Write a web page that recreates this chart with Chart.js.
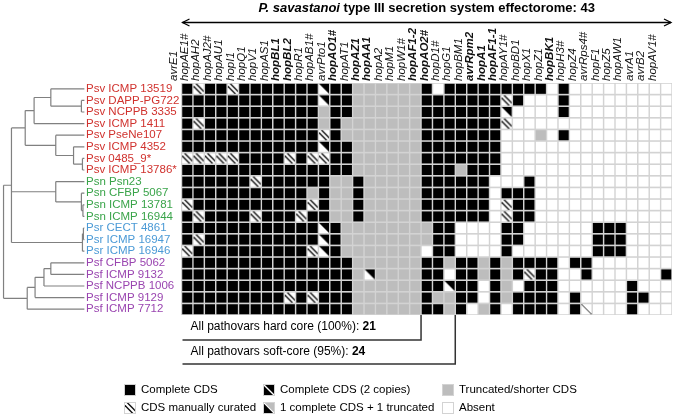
<!DOCTYPE html>
<html><head><meta charset="utf-8">
<script src="https://cdn.jsdelivr.net/npm/chart.js@4/dist/chart.umd.min.js"></script>
<style>html,body{margin:0;padding:0;background:#fff}canvas{display:block}</style>
</head><body>
<canvas id="c" width="679" height="418"></canvas>
<script>
// ---------- DATA ----------
const effectorNames = ['avrE1','hopAE1#','hopAH2','hopAJ2#','hopAU1','hopI1','hopQ1','hopV1','hopAS1','hopBL1','hopBL2','hopR1','hopAB1#','avrPto1','hopAO1#','hopAT1','hopAZ1','hopAA1','hopA2','hopM1','hopW1#','hopAF1-2','hopAO2#','hopD1#','hopG1','hopBM1','avrRpm2','hopA1','hopAF1-1','hopAY1#','hopBD1','hopX1','hopZ1','hopBK1','hopH3#','hopZ4','avrRps4#','hopF1','hopZ5','hopAW1','avrA1','avrB2','hopAV1#'];
const boldEffectors = ['hopBL1','hopBL2','hopAO1#','hopAZ1','hopAA1','hopAF1-2','hopAO2#','avrRpm2','hopA1','hopAF1-1','hopBK1'];
const strainNames = ['Psv ICMP 13519','Psv DAPP-PG722','Psv NCPPB 3335','Psv ICMP 1411','Psv PseNe107','Psv ICMP 4352','Psv 0485_9*','Psv ICMP 13786*','Psn Psn23','Psn CFBP 5067','Psn ICMP 13781','Psn ICMP 16944','Psr CECT 4861','Psr ICMP 16947','Psr ICMP 16946','Psf CFBP 5062','Psf ICMP 9132','Psf NCPPB 1006','Psf ICMP 9129','Psf ICMP 7712'];
const strainPathovar = ['Psv','Psv','Psv','Psv','Psv','Psv','Psv','Psv','Psn','Psn','Psn','Psn','Psr','Psr','Psr','Psf','Psf','Psf','Psf','Psf'];
// B complete, S manually curated, T 2 copies, G truncated, W absent, L single diagonal
const effectorStates = [
  'BSBBSBBBBBBBTBBGGGGGGBWBBBBBBBBBWBWWWWWWWWW',
  'BBBBBBBBBBBBTBBGGGGGGBBBBBBBSBWWWBWWWWWWWWW',
  'BBBBBBBBBBBBGBBGGGGGGBBBBBBBTWWWWBWWWWWWWWW',
  'BSBBBBBBBBBBGBGGGGGGGBBBBBBBSWWWWWWWWWWWWWW',
  'BBBBBBBBBBBBSBGGGGGGGBBBBBBBWWWGWBWWWWWWWWW',
  'BBBBBBBBBBBBTBBGGGGGGBBBBBBBWWWWWWWWWWWWWWW',
  'SSSSSBBBBSBSSBBGGGGGGBBBBBBBWWWWWWWWWWWWWWW',
  'BBBBBBBBBBBBBBBGGGGGGBBBGBBBWWWWWWWWWWWWWWW',
  'BBBBBBSBBBBBBGGBGGGGGBBBBBBWWWBWWWWWWWWWWWW',
  'BBBBBBBBBBBGBGGBGGGGGBBBBBBWBBBWWWWWWWWWWWW',
  'SBBBBBBBBBBSBGGBGGGGGBBBBBBWSBBWWWWWWWWWWWW',
  'BSBBBBSBBBSBBGGBGGGGGBBBBBBWSBBWWWWWWWWWWWW',
  'BBBBBBBBBBBBTBGGGGGGGGBBWWWWBBWWWWWWBBBWWWW',
  'BSBBBBBBBBBBTBGGGGGGGGBBWWWWBBWWWWWWBBBWWWW',
  'SBBBBBBBBBBSTBGGGGGGGWBBWWWWBWWWWWWWBBBWWWW',
  'BBBBBBBBBBBBBBBGGGGGGBBGBBGBGBBBBWBBWWWWWWW',
  'BBBBBBBBBBBBBBBGTGGGGBBWBBGBGBSBBWWBWWWWWWB',
  'BBBBBBBBBBBBBBBGGGGGGBBTBBWBGWBBBWWWWWWBWWW',
  'BBBBBBBBBSBSBBBGGGGGGBGGBBWBGBBBBWBWWWWBBWW',
  'BBBBBBBBBBBBBBBGGGGGGBBGBWGBWBBBBWBLWWWBWWW'
];
const hardCoreCount = 21;   // all pathovars hard core (100%)
const softCoreCount = 24;   // all pathovars soft-core (95%)
// dendrogram: [depth, child, child...]; leaves = strain index; depth 0 = root, 1 = leaves
const dendrogram = [0.0,
  [0.098,
    [0.268,
      [0.378, [0.585, 0, [0.963, 1, 2]], 3],
      [0.646, 4, [0.866, 5, [0.976, 6, 7]]]
    ],
    [0.646, 8, [0.963, 9, [0.982, 10, 11]]],
    [0.976, [0.988, 12, 13], 14]
  ],
  [0.293, [0.39, [0.5, [0.585, 15, 16], 17], 18], 19]
];
const legendItems = [['B','Complete CDS'],['S','CDS manually curated'],['T2','Complete CDS (2 copies)'],['P','1 complete CDS + 1 truncated'],['G','Truncated/shorter CDS'],['W','Absent']];

// ---------- STYLE ----------
const FONT = '"Liberation Sans", Arial, Helvetica, sans-serif';
Chart.defaults.font.family = FONT;
const pathovarColors = {Psv:'#d0322e', Psn:'#3aa44a', Psr:'#4b9ad6', Psf:'#9a45b0'};
const GRID_LEFT = 181.5, GRID_RIGHT = 679, GRID_TOP = 83, GRID_BOTTOM = 315;
const TREE_LEFT = 1, TREE_RIGHT = 83;

function makeCell(kind){
  const s = 12, cv = document.createElement('canvas'); cv.width = s; cv.height = s;
  const g = cv.getContext('2d');
  g.fillStyle = '#d3d3d3'; g.fillRect(0,0,s,s);
  const fills = {B:'#000', G:'#bdbdbd', T2:'#000', P:'#bdbdbd'};
  g.fillStyle = fills[kind] || '#fff'; g.fillRect(1,1,10,10);
  g.save(); g.beginPath(); g.rect(1,1,10,10); g.clip();
  if (kind === 'S'){
    g.strokeStyle = '#111'; g.lineWidth = 1.4;
    [-2.6, 2.6].forEach(o => { g.beginPath(); g.moveTo(o, 0); g.lineTo(o+12, 12); g.stroke(); });
  } else if (kind === 'T'){
    g.fillStyle = '#000'; g.beginPath(); g.moveTo(1,1); g.lineTo(11,1); g.lineTo(11,11); g.closePath(); g.fill();
  } else if (kind === 'L'){
    g.strokeStyle = '#222'; g.lineWidth = 1; g.beginPath(); g.moveTo(1,1); g.lineTo(11,11); g.stroke();
  } else if (kind === 'T2'){
    g.strokeStyle = '#fff'; g.lineWidth = 1.4; g.beginPath(); g.moveTo(0,0); g.lineTo(12,12); g.stroke();
  } else if (kind === 'P'){
    g.fillStyle = '#000'; g.beginPath(); g.moveTo(1,1); g.lineTo(1,11); g.lineTo(11,11); g.closePath(); g.fill();
    g.strokeStyle = '#fff'; g.lineWidth = 1.2; g.beginPath(); g.moveTo(0,0); g.lineTo(12,12); g.stroke();
  }
  g.restore();
  return cv;
}
const cellImages = {};
['B','G','W','S','T','L','T2','P'].forEach(k => cellImages[k] = makeCell(k));

// ---------- DATASETS ----------
const cellKinds = ['B','G','W','S','T','L'];
const cellDatasets = cellKinds.map(kind => {
  const pts = [];
  effectorStates.forEach((row, r) => {
    for (let c = 0; c < row.length; c++) if (row[c] === kind) pts.push({x: c, y: r});
  });
  return {label: kind, data: pts, pointStyle: cellImages[kind], pointRadius: 6, pointHoverRadius: 6, clip: false, xAxisID: 'x', yAxisID: 'y'};
});

const treeSegments = [];
function walk(node){
  if (typeof node === 'number') return {y: node, d: 1};
  const [d, ...kids] = node;
  const ks = kids.map(walk);
  const ys = ks.map(k => k.y);
  const y0 = Math.min(...ys), y1 = Math.max(...ys);
  treeSegments.push({x: d, y: y0}, {x: d, y: y1}, {x: null, y: null});
  ks.forEach(k => treeSegments.push({x: d, y: k.y}, {x: k.d, y: k.y}, {x: null, y: null}));
  return {y: (y0 + y1) / 2, d};
}
walk(dendrogram);
const treeDataset = {label: 'tree', data: treeSegments, showLine: true, spanGaps: false, pointRadius: 0, borderColor: '#808080', borderWidth: 1.2, clip: false, xAxisID: 'xt', yAxisID: 'y'};

// tree scale so that depth 0..1 lands on TREE_LEFT..TREE_RIGHT
const pxPerDepth = TREE_RIGHT - TREE_LEFT;
const xtMin = (GRID_LEFT - TREE_LEFT) / pxPerDepth;
const xtMax = xtMin + (GRID_RIGHT - GRID_LEFT) / pxPerDepth;

// ---------- DECORATION PLUGIN ----------
const decor = {
  id: 'decor',
  afterDraw(chart){
    const {ctx, scales: {x, y}} = chart;
    const left = x.getPixelForValue(-0.5), right = x.getPixelForValue(effectorNames.length - 0.5);
    const bottom = y.getPixelForValue(strainNames.length - 0.5);
    ctx.save();
    ctx.fillStyle = '#000'; ctx.strokeStyle = '#000'; ctx.textBaseline = 'middle'; ctx.textAlign = 'left';
    // title
    const t1 = 'P. savastanoi', t2 = ' type III secretion system effectorome: ' + effectorNames.length;
    ctx.font = 'italic bold 13px ' + FONT; const w1 = ctx.measureText(t1).width;
    ctx.font = 'bold 13px ' + FONT; const w2 = ctx.measureText(t2).width;
    const tx = (left + right) / 2 - (w1 + w2) / 2;
    ctx.font = 'italic bold 13px ' + FONT; ctx.fillText(t1, tx, 8);
    ctx.font = 'bold 13px ' + FONT; ctx.fillText(t2, tx + w1, 8);
    // double arrow
    const ay = 22.5;
    ctx.lineWidth = 1.3;
    ctx.beginPath(); ctx.moveTo(left + 1, ay); ctx.lineTo(right - 1, ay); ctx.stroke();
    ctx.beginPath(); ctx.moveTo(left + 8, ay - 3.5); ctx.lineTo(left + 1, ay); ctx.lineTo(left + 8, ay + 3.5); ctx.stroke();
    ctx.beginPath(); ctx.moveTo(right - 8, ay - 3.5); ctx.lineTo(right - 1, ay); ctx.lineTo(right - 8, ay + 3.5); ctx.stroke();
    // core brackets
    const brackets = [['All pathovars hard core (100%): ', hardCoreCount, 12, 25], ['All pathovars soft-core (95%): ', softCoreCount, 37, 49]];
    ctx.strokeStyle = '#333'; ctx.lineWidth = 1.5;
    brackets.forEach(([txt, n, ty, ly]) => {
      const bx = x.getPixelForValue(n - 0.5);
      ctx.beginPath(); ctx.moveTo(left + 1, bottom + ly); ctx.lineTo(bx, bottom + ly); ctx.lineTo(bx, bottom); ctx.stroke();
      ctx.font = '12px ' + FONT; ctx.fillText(txt, left + 9, bottom + ty);
      const tw = ctx.measureText(txt).width;
      ctx.font = 'bold 12px ' + FONT; ctx.fillText(String(n), left + 9 + tw, bottom + ty);
    });
    // legend
    const colX = [124, 263, 442], rowY = [390, 408];
    ctx.font = '11.5px ' + FONT;
    legendItems.forEach(([k, label], i) => {
      const cx = colX[Math.floor(i / 2)], cy = rowY[i % 2];
      ctx.drawImage(cellImages[k], cx, Math.round(cy - 6));
      ctx.fillText(label, cx + 17, cy);
    });
    ctx.restore();
  }
};

// ---------- CHART ----------
new Chart(document.getElementById('c'), {
  type: 'scatter',
  data: {datasets: [...cellDatasets, treeDataset]},
  options: {
    responsive: false, animation: false, devicePixelRatio: 1, events: [],
    layout: {padding: {left: 86, right: 679 - GRID_RIGHT, top: 0, bottom: 418 - GRID_BOTTOM}},
    plugins: {legend: {display: false}, tooltip: {enabled: false}},
    scales: {
      x: {
        type: 'linear', position: 'top', min: -0.5, max: effectorNames.length - 0.5,
        grid: {display: false, drawTicks: false}, border: {display: false},
        afterBuildTicks: s => { s.ticks = effectorNames.map((_, i) => ({value: i})); },
        afterFit: s => { s.height = GRID_TOP; s.paddingLeft = 0; s.paddingRight = 0; },
        ticks: {
          autoSkip: false, minRotation: 90, maxRotation: 90, padding: 2, color: '#111',
          callback: v => effectorNames[v],
          font: c => ({family: FONT, size: 11.5, style: 'italic', weight: boldEffectors.includes(effectorNames[c.index]) ? 'bold' : 'normal'})
        }
      },
      y: {
        type: 'linear', position: 'left', reverse: true, min: -0.5, max: strainNames.length - 0.5,
        grid: {display: false, drawTicks: false}, border: {display: false},
        afterBuildTicks: s => { s.ticks = strainNames.map((_, i) => ({value: i})); },
        afterFit: s => { s.width = GRID_LEFT - 86; s.paddingTop = 0; s.paddingBottom = 0; },
        ticks: {
          crossAlign: 'far', padding: 0, autoSkip: false,
          callback: v => strainNames[v],
          color: c => pathovarColors[strainPathovar[c.index]],
          font: {family: FONT, size: 11.5}
        }
      },
      xt: {type: 'linear', display: false, min: xtMin, max: xtMax}
    }
  },
  plugins: [decor]
});
</script>
</body></html>
